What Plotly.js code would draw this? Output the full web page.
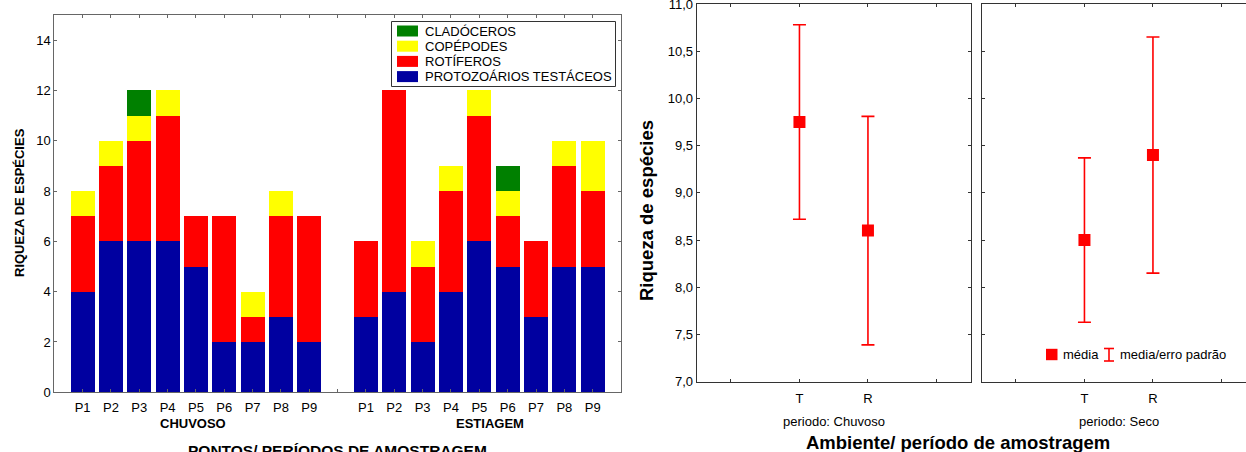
<!DOCTYPE html>
<html>
<head>
<meta charset="utf-8">
<script src="https://cdn.plot.ly/plotly-3.0.1.min.js"></script>
<style>
html,body{margin:0;padding:0;overflow:hidden;background:#fff;}
#chart{width:1256px;height:452px;}
</style>
</head>
<body>
<div id="chart"></div>
<script>
// ---------------- DATA ----------------
const periods = ['CHUVOSO', 'ESTIAGEM'];
const points = ['P1','P2','P3','P4','P5','P6','P7','P8','P9'];
const groupNames = ['PROTOZOÁRIOS TESTÁCEOS', 'ROTÍFEROS', 'COPÉPODES', 'CLADÓCEROS'];

const protozoarios_chuvoso = [4, 6, 6, 6, 5, 2, 2, 3, 2];
const rotiferos_chuvoso    = [3, 3, 4, 5, 2, 5, 1, 4, 5];
const copepodes_chuvoso    = [1, 1, 1, 1, 0, 0, 1, 1, 0];
const cladoceros_chuvoso   = [0, 0, 1, 0, 0, 0, 0, 0, 0];

const protozoarios_estiagem = [3, 4, 2, 4, 6, 5, 3, 5, 5];
const rotiferos_estiagem    = [3, 8, 3, 4, 5, 2, 3, 4, 3];
const copepodes_estiagem    = [0, 0, 1, 1, 1, 1, 0, 1, 2];
const cladoceros_estiagem   = [0, 0, 0, 0, 0, 1, 0, 0, 0];

const yTicksLeft = [0, 2, 4, 6, 8, 10, 12, 14];

const ambientes = ['T', 'R'];
const periodosRight = ['periodo: Chuvoso', 'periodo: Seco'];
const media_chuvoso = [9.75, 8.60];
const erro_chuvoso  = [1.03, 1.21];
const media_seco    = [8.50, 9.40];
const erro_seco     = [0.87, 1.25];
const yTicksRight = [7.0, 7.5, 8.0, 8.5, 9.0, 9.5, 10.0, 10.5, 11.0];
const yTickLabelsRight = ['7,0','7,5','8,0','8,5','9,0','9,5','10,0','10,5','11,0'];

// ---------------- STYLE ----------------
const W = 1256, H = 452;
const px = v => v / W;
const py = v => 1 - v / H;
const FONT = 'Liberation Sans, Arial, sans-serif';
const colors = ['#0000A0', '#FF0000', '#FFFF00', '#008000'];

// slot positions: one empty slot between the two periods
const slot = (pi, i) => pi * (points.length + 1) + i;
const xBars = [];
periods.forEach((p, pi) => points.forEach((pt, i) => xBars.push(slot(pi, i))));
const nSlots = periods.length * (points.length + 1) - 1;
const tickValsLeft = [], tickTextLeft = [];
for (let s = 0; s < nSlots; s++) {
  tickValsLeft.push(s);
  const r = s % (points.length + 1);
  tickTextLeft.push(r < points.length ? points[r] : '');
}

const seriesBars = [
  protozoarios_chuvoso.concat(protozoarios_estiagem),
  rotiferos_chuvoso.concat(rotiferos_estiagem),
  copepodes_chuvoso.concat(copepodes_estiagem),
  cladoceros_chuvoso.concat(cladoceros_estiagem)
];

const traces = seriesBars.map((vals, k) => ({
  type: 'bar', x: xBars, y: vals, name: groupNames[k],
  marker: {color: colors[k], line: {width: 0}},
  xaxis: 'x', yaxis: 'y', hoverinfo: 'skip', showlegend: false
}));

const xRight = ambientes.map((a, i) => i + 1);
[[media_chuvoso, erro_chuvoso, 'x2', 'y2'], [media_seco, erro_seco, 'x3', 'y3']].forEach(([m, e, xa, ya]) => {
  traces.push({
    type: 'scatter', mode: 'markers', x: xRight, y: m,
    marker: {symbol: 'square', size: 12, color: '#FF0000'},
    error_y: {type: 'data', array: e, visible: true, color: '#FF0000', thickness: 1.6, width: 6.5},
    xaxis: xa, yaxis: ya, showlegend: false, hoverinfo: 'skip'
  });
});

const leftLine = '#666';
const rightLine = '#333';
const tickFont = {family: FONT, size: 13, color: '#000'};

const rightX = (dom) => ({
  domain: dom, range: [-0.5, 3.5], tickvals: [0, 1, 2, 3], ticktext: [''].concat(ambientes, ['']),
  showline: true, linecolor: rightLine, linewidth: 1, mirror: 'ticks', ticks: 'inside', ticklen: 3,
  tickcolor: rightLine, showgrid: false, zeroline: false, tickfont: tickFont, fixedrange: true,
  ticklabelstandoff: 5
});
const rightY = (anchor, labels) => ({
  domain: [py(381.7), py(4)], range: [7, 11], tickvals: yTicksRight, ticktext: yTickLabelsRight,
  showticklabels: labels, anchor: anchor, ticklabeloverflow: 'allow',
  showline: true, linecolor: rightLine, linewidth: 1, mirror: 'ticks', ticks: 'inside', ticklen: 3,
  tickcolor: rightLine, showgrid: false, zeroline: false, tickfont: tickFont, fixedrange: true
});

const ann = (text, x, y, opts) => Object.assign({
  text: text, x: x, y: y, xref: 'paper', yref: 'paper', showarrow: false,
  xanchor: 'center', yanchor: 'middle', font: {family: FONT, size: 13, color: '#000'}
}, opts || {});

const annotations = [
  ann('RIQUEZA DE ESPÉCIES', px(19), py(203), {textangle: -90, font: {family: FONT, size: 13, color: '#000', weight: 'bold'}}),
  ann('<b>' + periods[0] + '</b>', px(192.5), py(423.5)),
  ann('<b>' + periods[1] + '</b>', px(490.3), py(423.5)),
  ann('<b>PONTOS/ PERÍODOS DE AMOSTRAGEM</b>', px(337.6), py(450), {font: {family: FONT, size: 15.5, color: '#000'}}),
  ann('<b>Riqueza de espécies</b>', px(646), py(211), {textangle: -90, font: {family: FONT, size: 18.5, color: '#000'}}),
  ann(periodosRight[0], px(833.7), py(421.7)),
  ann(periodosRight[1], px(1118.7), py(421.7)),
  ann('<b>Ambiente/ período de amostragem</b>', px(958), py(442), {font: {family: FONT, size: 18.5, color: '#000'}}),
  ann('média', px(1061), py(354.5), {xanchor: 'left'}),
  ann('media/erro padrão', px(1118), py(354.5), {xanchor: 'left'})
];

const shapes = [
  // right chart legend symbols
  {type: 'rect', xref: 'paper', yref: 'paper', x0: px(1046), x1: px(1057.5), y0: py(360.2), y1: py(348.8), fillcolor: '#FF0000', line: {width: 0}},
  {type: 'line', xref: 'paper', yref: 'paper', x0: px(1109), x1: px(1109), y0: py(348.5), y1: py(361), line: {color: '#FF0000', width: 1.6}},
  {type: 'line', xref: 'paper', yref: 'paper', x0: px(1104), x1: px(1114), y0: py(348.5), y1: py(348.5), line: {color: '#FF0000', width: 1.6}},
  {type: 'line', xref: 'paper', yref: 'paper', x0: px(1104), x1: px(1114), y0: py(361), y1: py(361), line: {color: '#FF0000', width: 1.6}},
  // left chart legend box
  {type: 'rect', xref: 'paper', yref: 'paper', x0: px(391.5), x1: px(615.5), y0: py(86.5), y1: py(21.5), fillcolor: '#fff', line: {color: '#333', width: 1}}
];

// left chart legend entries (top to bottom: reverse of stacking order)
const legendTop = 31, legendPitch = 15.2;
groupNames.slice().reverse().forEach((name, j) => {
  const k = groupNames.length - 1 - j;
  const cy = legendTop + j * legendPitch;
  shapes.push({type: 'rect', xref: 'paper', yref: 'paper', x0: px(397), x1: px(418), y0: py(cy + 5.5), y1: py(cy - 5.5), fillcolor: colors[k], line: {width: 0}});
  annotations.push(ann(name, px(422.5), py(cy), {xanchor: 'left'}));
});

const layout = {
  width: W, height: H,
  margin: {l: 0, r: 0, t: 0, b: 0},
  paper_bgcolor: '#fff', plot_bgcolor: '#fff',
  barmode: 'stack', bargap: 0.15,
  showlegend: false,
  xaxis: {
    domain: [px(54.3), px(621)], range: [-1, nSlots], tickvals: tickValsLeft, ticktext: tickTextLeft,
    showline: true, linecolor: leftLine, linewidth: 1, mirror: 'ticks', ticks: 'inside', ticklen: 3,
    tickcolor: leftLine, showgrid: false, zeroline: false, tickfont: tickFont, fixedrange: true,
    ticklabelstandoff: 3
  },
  yaxis: {
    domain: [py(392.3), py(15)], range: [0, 15], tickvals: yTicksLeft,
    showline: true, linecolor: leftLine, linewidth: 1, mirror: 'ticks', ticks: 'inside', ticklen: 3,
    tickcolor: leftLine, showgrid: false, zeroline: false, tickfont: tickFont, fixedrange: true
  },
  xaxis2: Object.assign(rightX([px(696.7), px(970.7)]), {anchor: 'y2'}),
  yaxis2: rightY('x2', true),
  xaxis3: Object.assign(rightX([px(981.7), px(1255.7)]), {anchor: 'y3'}),
  yaxis3: rightY('x3', false),
  annotations: annotations,
  shapes: shapes
};

Plotly.newPlot('chart', traces, layout, {displayModeBar: false, staticPlot: true});
</script>
</body>
</html>
